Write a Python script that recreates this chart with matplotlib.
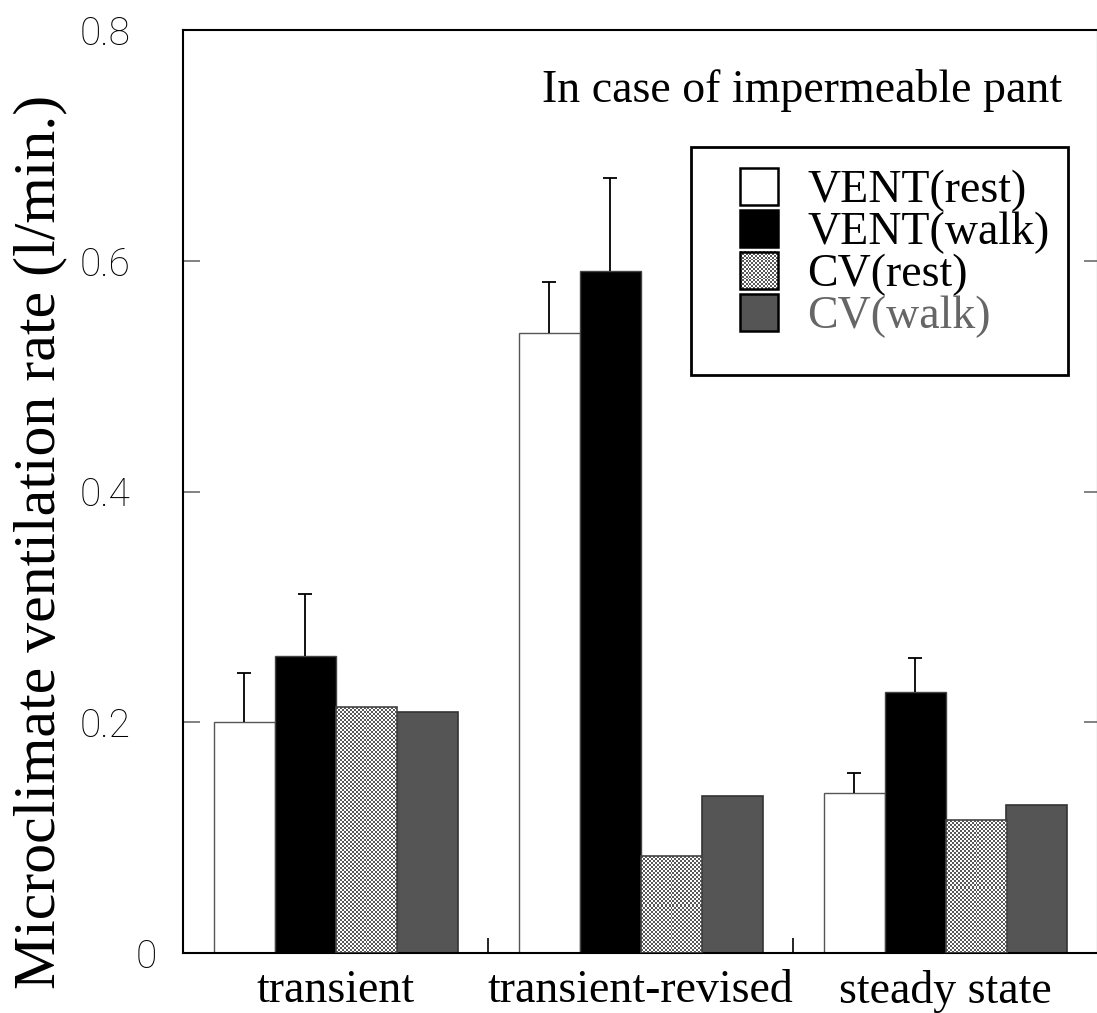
import matplotlib
matplotlib.use("Agg")
import matplotlib.pyplot as plt
import numpy as np
from matplotlib.patches import Rectangle
from matplotlib.image import BboxImage
from matplotlib.legend_handler import HandlerPatch
from matplotlib.transforms import ScaledTranslation

plt.rcParams['font.family'] = 'Liberation Serif'

cases = ['transient', 'transient-revised', 'steady state']
series = ['VENT(rest)', 'VENT(walk)', 'CV(rest)', 'CV(walk)']
vent_rest = [0.200, 0.537, 0.139]
vent_rest_err = [0.043, 0.045, 0.017]
vent_walk = [0.257, 0.591, 0.226]
vent_walk_err = [0.054, 0.081, 0.030]
cv_rest = [0.213, 0.084, 0.115]
cv_walk = [0.209, 0.136, 0.128]
yticks = [0, 0.2, 0.4, 0.6, 0.8]
ytick_labels = ['0', '0.2', '0.4', '0.6', '0.8']

W, H = 1097, 1013
fig = plt.figure(figsize=(W / 100, H / 100), dpi=100)
ax = fig.add_axes([183 / W, 60 / H, 915 / W, 923 / H])
ax.set_xlim(0, 3)
ax.set_ylim(0, 0.8)

x = np.arange(len(cases)) + 0.5
bw = 0.2


def checker(nx, ny):
    return (np.indices((ny, nx)).sum(axis=0) % 2).astype(float)


def drop_lower_caps(bars, heights):
    # error bars only go up: hide the cap sitting on the bar top
    for cap in bars.errorbar[1]:
        if np.allclose(cap.get_ydata(), heights):
            cap.set_visible(False)


ekw = dict(ecolor='black', elinewidth=1.3, capsize=5, capthick=1.3)
b1 = ax.bar(x - 1.5 * bw, vent_rest, bw, facecolor='white', edgecolor='#555555',
            linewidth=1.0, yerr=[np.zeros(3), vent_rest_err], error_kw=ekw)
b2 = ax.bar(x - 0.5 * bw, vent_walk, bw, facecolor='black', edgecolor='#444444',
            linewidth=1.0, yerr=[np.zeros(3), vent_walk_err], error_kw=ekw)
b3 = ax.bar(x + 0.5 * bw, cv_rest, bw, facecolor='none', edgecolor='#444444',
            linewidth=1.2, zorder=3)
b4 = ax.bar(x + 1.5 * bw, cv_walk, bw, facecolor='#555555', edgecolor='#333333',
            linewidth=1.2)
drop_lower_caps(b1, vent_rest)
drop_lower_caps(b2, vent_walk)

# fine stipple inside the CV(rest) bars, one 2px checker cell at a time
pxx = ax.transData.transform((1, 0))[0] - ax.transData.transform((0, 0))[0]
pxy = ax.transData.transform((0, 1))[1] - ax.transData.transform((0, 0))[1]
for r in b3:
    x0, w, h = r.get_x(), r.get_width(), r.get_height()
    nx = max(1, int(round(w * pxx / 2)))
    ny = max(1, int(round(h * pxy / 2)))
    im = ax.imshow(checker(nx, ny), cmap='gray', vmin=-0.55, vmax=1.0,
                   extent=(x0, x0 + w, 0, h), interpolation='nearest',
                   aspect='auto', zorder=2)
    im.set_clip_path(r)
ax.set_xlim(0, 3)
ax.set_ylim(0, 0.8)


class SquareHandler(HandlerPatch):
    def __init__(self, stipple=False):
        super().__init__()
        self.stipple = stipple

    def create_artists(self, legend, orig_handle, xdescent, ydescent,
                       width, height, fontsize, trans):
        side = height
        rect = Rectangle((-xdescent + width - side, -ydescent), side, side)
        self.update_prop(rect, orig_handle, legend)
        rect.set_linewidth(1.8)
        rect.set_edgecolor('black')
        rect.set_transform(trans)
        if not self.stipple:
            return [rect]
        rect.set_facecolor('none')
        img = BboxImage(lambda rd: rect.get_window_extent(rd),
                        cmap='gray', interpolation='nearest')
        img.set_data(checker(20, 20))
        img.set_clim(-0.55, 1.0)
        return [img, rect]


handles = [b1[0], b2[0], b3[0], b4[0]]
leg = ax.legend(handles=handles, labels=series,
                handler_map={b1[0]: SquareHandler(), b2[0]: SquareHandler(),
                             b3[0]: SquareHandler(True), b4[0]: SquareHandler()},
                loc='upper left', bbox_to_anchor=((691 - 183) / 915, (953 - 147) / 923),
                borderaxespad=0, fontsize=33, frameon=False, handlelength=1.44,
                handleheight=0.87, handletextpad=0.65, labelspacing=-0.05,
                borderpad=0.45)
leg.get_texts()[3].set_color('#666666')
# legend box, a little deeper than the entries need
ax.add_patch(Rectangle(((691 - 183) / 915, (953 - 375) / 923), 377 / 915, 228 / 923,
                       transform=ax.transAxes, facecolor='white', edgecolor='black',
                       linewidth=2.0, zorder=4.5))

ax.text(0.961, 0.922, 'In case of impermeable pant', transform=ax.transAxes,
        ha='right', va='baseline', fontsize=33)

fig.text(40 / W, 1 - 542 / H, 'Microclimate ventilation rate (l/min.)',
         rotation=90, ha='center', va='center', fontsize=43)

ax.set_xticks(x)
ax.set_xticklabels(cases, fontsize=33)
ax.set_xticks([1, 2], minor=True)
ax.tick_params(axis='x', which='major', length=0, pad=12)
ax.tick_params(axis='x', which='minor', direction='in', length=11, width=1.2,
               color='black', bottom=True, top=False)

ax.set_yticks(yticks)
ax.set_yticklabels(ytick_labels, fontfamily='Roboto', fontweight='light',
                   fontsize=28, color='black')
ax.tick_params(axis='y', direction='in', length=12, width=1.3, color='#777777',
               right=True, pad=38)
for t in ax.yaxis.get_major_ticks():
    t.tick2line.set_markersize(10)
# the zero label sits further right than the decimals
zl = ax.yaxis.get_major_ticks()[0].label1
zl.set_transform(zl.get_transform() + ScaledTranslation(27 / 100, 0, fig.dpi_scale_trans))

for s in ax.spines.values():
    s.set_linewidth(1.5)
    s.set_color('black')

fig.savefig('out.png', dpi=100)
